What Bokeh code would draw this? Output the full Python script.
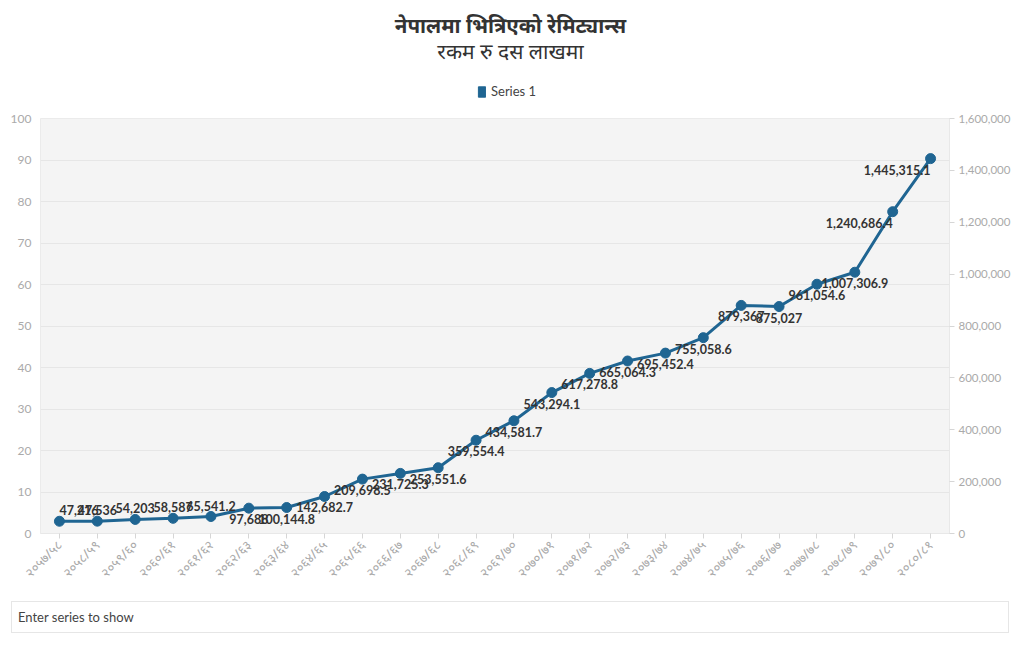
import math
from bokeh.plotting import figure
from bokeh.models import (ColumnDataSource, LinearAxis, Range1d, FixedTicker,
                          NumeralTickFormatter, Label, Legend, LegendItem, Div)
from bokeh.layouts import column
from bokeh.embed import file_html
from bokeh.resources import INLINE
from bokeh.core.properties import value

# ---------------- data ----------------
years = ["२०५७/५८", "२०५८/५९", "२०५९/६०", "२०६०/६१", "२०६१/६२", "२०६२/६३",
         "२०६३/६४", "२०६४/६५", "२०६५/६६", "२०६६/६७", "२०६७/६८", "२०६८/६९",
         "२०६९/७०", "२०७०/७१", "२०७१/७२", "२०७२/७३", "२०७३/७४", "२०७४/७५",
         "२०७५/७६", "२०७६/७७", "२०७७/७८", "२०७८/७९", "२०७९/८०", "२०८०/८१"]
remittance = [47216, 47536, 54203, 58587, 65541.2, 97688, 100144.8, 142682.7,
              209698.5, 231725.3, 253551.6, 359554.4, 434581.7, 543294.1,
              617278.8, 665064.3, 695452.4, 755058.6, 879367, 875027,
              961054.6, 1007306.9, 1240686.4, 1445315.1]
series_name = "Series 1"
title_main = "नेपालमा भित्रिएको रेमिट्यान्स"
title_sub = "रकम रु दस लाखमा"
left_ticks = list(range(0, 101, 10))
right_ticks = list(range(0, 1600001, 200000))

labels = [f"{v:,}" for v in remittance]

# ---------------- label placement (style only) ----------------
n = len(years)
lab_align = ["left"] + ["center"] * (n - 3) + ["right", "right"]
lab_base = ["bottom"] * 5 + ["top"] * (n - 5)
lab_yoff = [-6] * 5 + [6] * (n - 5)

BLUE = "#1f6592"
FONT = "Lato"
TFONT = "Noto Sans"
GRAY = "#aaaaaa"
W = 1018

# ---------------- header: titles + legend ----------------
head = figure(width=W, height=110, output_backend="svg", toolbar_location=None,
              x_axis_type=None, y_axis_type=None, x_range=Range1d(0, 1),
              y_range=Range1d(0, 1), min_border=0, outline_line_color=None,
              background_fill_color="white", border_fill_color="white")
head.xgrid.grid_line_color = None
head.ygrid.grid_line_color = None
head.add_layout(Label(x=470, y=86, x_units="screen", y_units="screen",
                      text=title_main, text_align="center", text_baseline="middle",
                      text_font=TFONT, text_font_size="20.5px", text_font_style="bold",
                      text_color="#333333"))
head.add_layout(Label(x=470, y=60, x_units="screen", y_units="screen",
                      text=title_sub, text_align="center", text_baseline="middle",
                      text_font=TFONT, text_font_size="21px", text_color="#333333"))
# legend swatch renderer: series data lies outside this header's range, so only
# its legend glyph shows
head_src = ColumnDataSource(dict(v=remittance))
swatch = head.quad(left="v", right="v", top="v", bottom="v", source=head_src,
                   fill_color=BLUE, line_color=BLUE)
legend = Legend(items=[LegendItem(label=series_name, renderers=[swatch], index=0)],
                orientation="horizontal", location=(437, 11),
                label_text_font=FONT, label_text_font_size="13px",
                label_text_color="#444444", border_line_color=None,
                background_fill_alpha=0, glyph_width=9, glyph_height=13,
                padding=4, margin=0, label_standoff=5, label_height=14)
head.add_layout(legend, "center")

# ---------------- main chart ----------------
p = figure(x_range=years, y_range=Range1d(0, 100), width=W, height=483,
           output_backend="svg", toolbar_location=None,
           background_fill_color="#f4f4f4", border_fill_color="white",
           min_border_left=40, min_border_right=69, min_border_bottom=60,
           min_border_top=8)
p.outline_line_color = "#ebebeb"
p.extra_y_ranges = {"val": Range1d(0, 1600000)}

# left (empty) axis
la = p.yaxis[0]
la.ticker = FixedTicker(ticks=left_ticks)
la.axis_line_color = None
la.major_tick_line_color = None
la.minor_tick_line_color = None
la.major_label_text_color = GRAY
la.major_label_text_font = FONT
la.major_label_text_font_size = "12px"
la.major_label_standoff = 3

p.ygrid.ticker = FixedTicker(ticks=left_ticks)
p.ygrid.grid_line_color = "#e6e6e6"
p.xgrid.grid_line_color = None

# right axis
ra = LinearAxis(y_range_name="val", ticker=FixedTicker(ticks=right_ticks),
                formatter=NumeralTickFormatter(format="0,0"))
ra.axis_line_color = "#e8e8e8"
ra.major_tick_line_color = "#d6d6d6"
ra.major_tick_out = 5
ra.major_tick_in = 0
ra.minor_tick_line_color = None
ra.major_label_text_color = GRAY
ra.major_label_text_font = FONT
ra.major_label_text_font_size = "11.5px"
ra.major_label_standoff = 4
p.add_layout(ra, "right")

# x axis
xa = p.xaxis[0]
xa.major_label_orientation = math.pi / 4
xa.axis_line_color = "#e8e8e8"
xa.major_tick_line_color = "#d6d6d6"
xa.major_tick_out = 5
xa.major_tick_in = 0
xa.major_label_text_color = GRAY
xa.major_label_text_font = TFONT
xa.major_label_text_font_size = "13px"
xa.major_label_standoff = 4

src = ColumnDataSource(dict(year=years, val=remittance, label=labels,
                            align=lab_align, base=lab_base, yoff=lab_yoff))
p.line("year", "val", source=src, y_range_name="val", line_color=BLUE, line_width=3)
p.scatter("year", "val", source=src, y_range_name="val", size=10,
          fill_color=BLUE, line_color=BLUE)
p.text("year", "val", text="label", source=src, y_range_name="val",
       text_align=dict(field="align"), text_baseline=dict(field="base"),
       y_offset=dict(field="yoff"), text_font=value(FONT), text_font_style="bold",
       text_font_size="12.5px", text_color="#333333")

box = Div(text="Enter series to show", width=998, height=32, margin=(8, 0, 0, 11),
          styles={"border": "1px solid #e6e6e6", "box-sizing": "border-box",
                  "font-family": "Lato", "font-size": "13px", "color": "#444444",
                  "padding-left": "6px", "line-height": "30px"})

layout = column(head, p, box)
open("out.html", "w").write(file_html(layout, INLINE))
